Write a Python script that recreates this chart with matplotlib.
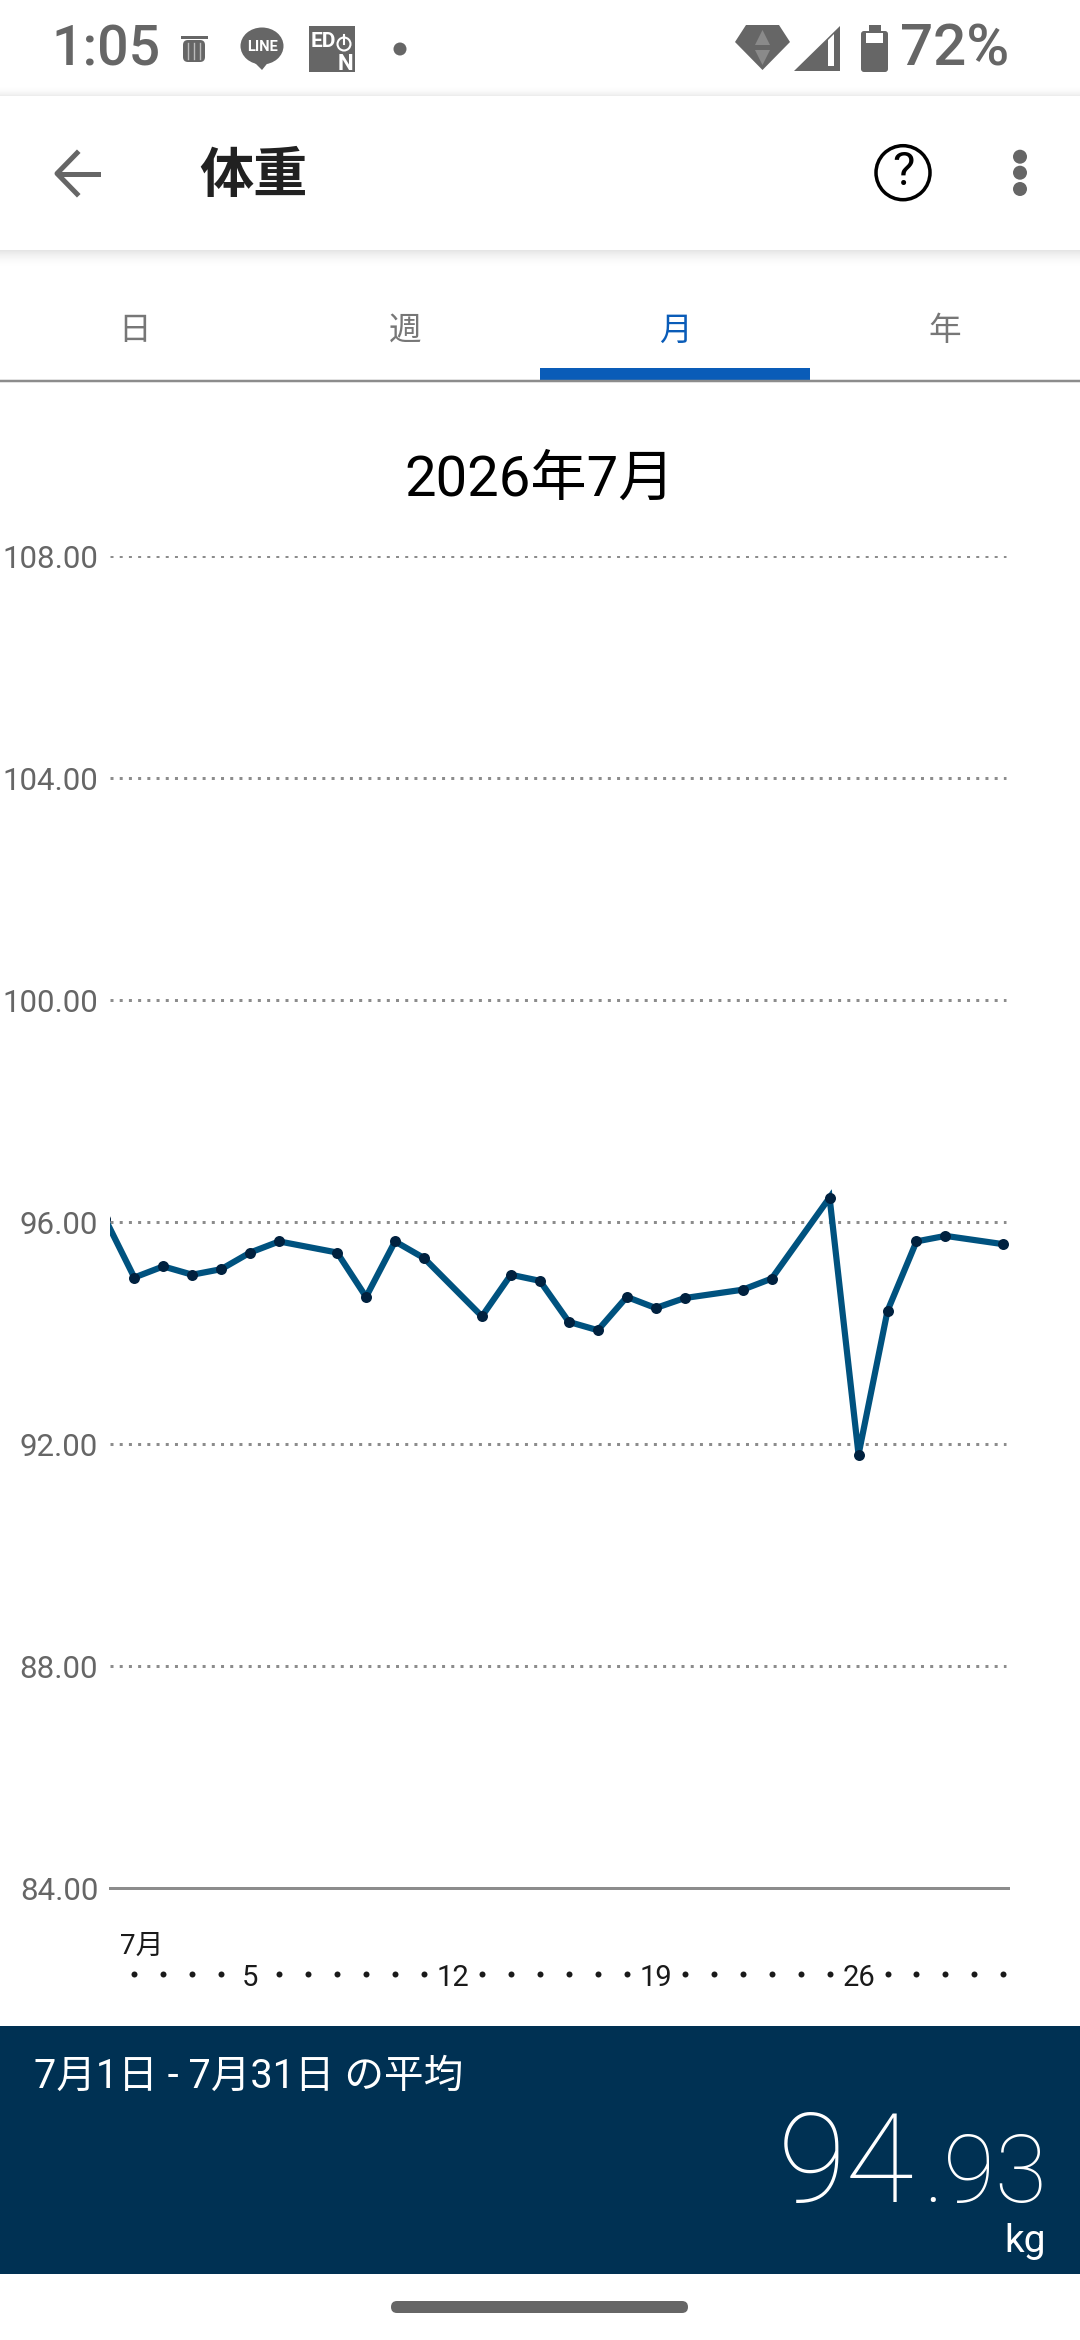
import matplotlib
matplotlib.use("Agg")
import matplotlib.pyplot as plt
from matplotlib.patches import Circle, Ellipse, FancyBboxPatch, Polygon, Rectangle

plt.rcParams["font.family"] = ["Roboto", "Noto Sans CJK JP", "DejaVu Sans"]

# weight data (day 0 is the last day of June, cut by the plot edge)
days = [0, 1, 2, 3, 4, 5, 6, 8, 9, 10, 11, 13, 14, 15, 16, 17, 18, 19, 20, 22, 23, 25, 26, 27, 28, 29, 31]
weights = [96.05, 95.00, 95.20, 95.05, 95.15, 95.45, 95.65, 95.45, 94.65, 95.65, 95.35, 94.30, 95.05,
           94.94, 94.20, 94.05, 94.65, 94.45, 94.63, 94.78, 94.98, 96.44, 91.81, 94.40, 95.65, 95.75, 95.60]
y_ticks = [84, 88, 92, 96, 100, 104, 108]
labelled_days = [5, 12, 19, 26]
all_days = list(range(1, 32))
tabs = ["日", "週", "月", "年"]

LINE_BLUE = "#00527f"
MARK_DARK = "#00213f"
PANEL = "#003153"
TAB_BLUE = "#0a5cb8"
GREY = "#666666"
RULE = "#8c8c8c"

W, H = 1080, 2340
fig = plt.figure(figsize=(W / 100, H / 100), dpi=100, facecolor="white")

# screen furniture, in pixel coordinates
ui = fig.add_axes([0, 0, 1, 1])
ui.set_xlim(0, W)
ui.set_ylim(H, 0)
ui.axis("off")


def px(size):
    return size * 0.72


def shadow(y, depth):
    for i in range(depth):
        ui.add_patch(Rectangle((0, y + i), W, 1, color="black", alpha=0.10 * (1 - i / depth) ** 2, lw=0))


for i in range(10):
    ui.add_patch(Rectangle((0, 95 - i), W, 1, color="black", alpha=0.07 * (1 - i / 10) ** 2, lw=0))
shadow(250, 18)

# status bar
ui.text(51, 66, "1:05", color=GREY, fontsize=40, fontweight="medium", va="baseline")
ui.text(1009, 66, "72%", color=GREY, fontsize=42, fontweight="medium", va="baseline", ha="right")
ui.add_patch(FancyBboxPatch((183, 40), 22, 22, boxstyle="round,pad=0,rounding_size=5", fc=GREY, ec="none"))
ui.add_patch(Rectangle((181, 36), 27, 3, fc=GREY, ec="none"))
for tx in [188, 194, 200]:
    ui.plot([tx, tx], [43, 59], color="#bbbbbb", lw=1)
ui.add_patch(Ellipse((262, 46), 43, 37, fc=GREY, ec="none"))
ui.add_patch(Polygon([(252, 60), (270, 60), (262, 70)], fc=GREY, ec="none"))
ui.text(262, 47, "LINE", color="white", fontsize=10.5, fontweight="bold", ha="center", va="center")
ui.add_patch(Rectangle((309, 26), 46, 46, fc=GREY, ec="none"))
ui.text(311, 47, "ED", color="white", fontsize=15, fontweight="bold", va="baseline")
ui.text(353, 70, "N", color="white", fontsize=16, fontweight="bold", va="baseline", ha="right")
ui.add_patch(Circle((344, 44), 6.5, fc="none", ec="white", lw=1.5))
ui.plot([344, 344], [35, 44], color="white", lw=1.5)
ui.add_patch(Circle((400, 49), 6.5, fc=GREY, ec="none"))
ui.add_patch(Polygon([(746, 25), (779, 25), (790, 42), (762.5, 70), (735, 42)], fc=GREY, ec="none"))
ui.add_patch(Polygon([(762.5, 30), (770, 45), (755, 45)], fc="#8a8a8a", ec="none"))
ui.add_patch(Polygon([(755, 50), (770, 50), (762.5, 65)], fc="#8a8a8a", ec="none"))
ui.add_patch(Polygon([(794, 71), (840, 26), (840, 71)], fc=GREY, ec="none"))
ui.add_patch(Polygon([(828, 40), (834, 34), (834, 66), (828, 66)], fc="white", ec="none"))
ui.add_patch(FancyBboxPatch((861, 31), 27, 41, boxstyle="round,pad=0,rounding_size=3", fc=GREY, ec="none"))
ui.add_patch(Rectangle((869, 25), 12, 7, fc=GREY, ec="none"))
ui.add_patch(Rectangle((866, 33), 17, 10, fc="white", ec="none"))

# app bar
ui.plot([98, 59], [173.5, 173.5], color=GREY, lw=px(5))
ui.plot([77, 57, 77], [153, 173.5, 194], color=GREY, lw=px(5))
ui.text(253, 177, "体重", color="#212121", fontsize=39, fontweight="bold", ha="center", va="center")
ui.add_patch(Circle((903, 172.7), 27, fc="none", ec="black", lw=px(3.5)))
ui.text(903, 172, "?", color="black", fontsize=34, ha="center", va="center")
for dy in [156.7, 172.7, 189]:
    ui.add_patch(Circle((1020, dy), 7, fc=GREY, ec="none"))

# tabs
tab_x = [135, 405, 675, 945]
for tx, name in zip(tab_x, tabs):
    ui.text(tx, 331, name, color=TAB_BLUE if name == "月" else "#777777", fontsize=23.5, ha="center", va="center")
ui.plot([0, W], [380.5, 380.5], color=RULE, lw=px(2.5))
ui.add_patch(Rectangle((540, 368), 270, 13, fc=TAB_BLUE, ec="none"))

ui.text(540, 480, "2026年7月", color="black", fontsize=40.5, ha="center", va="center")

# bottom panel
ui.add_patch(Rectangle((0, 2026), W, 248, fc=PANEL, ec="none"))
ui.text(34, 2076, "7月1日 - 7月31日 の平均", color="white", fontsize=28.5, va="center")
ui.text(914, 2202, "94", color="white", fontsize=90, fontweight="light", ha="right", va="baseline")
ui.text(1047, 2202, ".93", color="white", fontsize=68, fontweight="light", ha="right", va="baseline")
ui.text(1046, 2252, "kg", color="white", fontsize=28, ha="right", va="baseline")
ui.add_patch(FancyBboxPatch((391, 2301), 297, 12, boxstyle="round,pad=0,rounding_size=6", fc=GREY, ec="none"))

# chart, axes box placed so 84..108 and the day scale land on the right pixels
left, right, top, bottom = 110, 1007.6, 556, 1888
ax = fig.add_axes([left / W, 1 - bottom / H, (right - left) / W, (bottom - top) / H])
ax.patch.set_alpha(0)
day_px = 28.97
ax.set_xlim(1 + (left - 134.3) / day_px, 1 + (right - 134.3) / day_px)
ax.set_ylim(84, 108)

for sp in ["top", "left", "right"]:
    ax.spines[sp].set_visible(False)
ax.spines["bottom"].set_color(RULE)
ax.spines["bottom"].set_linewidth(px(3))

grid_end = 1 + (1006 - 134.3) / day_px
ax.hlines(y_ticks[1:], ax.get_xlim()[0], grid_end, color=RULE, lw=px(3), linestyles=[(0, (1.0, 2.07))], zorder=1)

ax.set_yticks(y_ticks)
ax.set_yticklabels([f"{v:.2f}" for v in y_ticks], fontsize=22.5, color=GREY)
ax.tick_params(axis="y", length=0, pad=8.5)

ax.set_xticks(labelled_days)
ax.set_xticklabels([str(d) for d in labelled_days], fontsize=21, color="#1a1a1a")
ax.tick_params(axis="x", length=0, pad=55)

ax.plot(days, weights, color=LINE_BLUE, lw=px(6.2), solid_joinstyle="miter", zorder=3)
ax.plot(days, weights, "o", color=MARK_DARK, ms=px(11), mew=0, zorder=4)

dot_days = [d for d in all_days if d not in labelled_days]
ax.plot(dot_days, [-0.0648] * len(dot_days), "o", color="#1a1a1a", ms=px(6), mew=0,
        transform=ax.get_xaxis_transform(), clip_on=False)
ax.text(1.25, -0.0435, "7月", transform=ax.get_xaxis_transform(), fontsize=20, color="#1a1a1a",
        ha="center", va="center", clip_on=False)

fig.savefig("out.png", dpi=100)
plt.close(fig)
